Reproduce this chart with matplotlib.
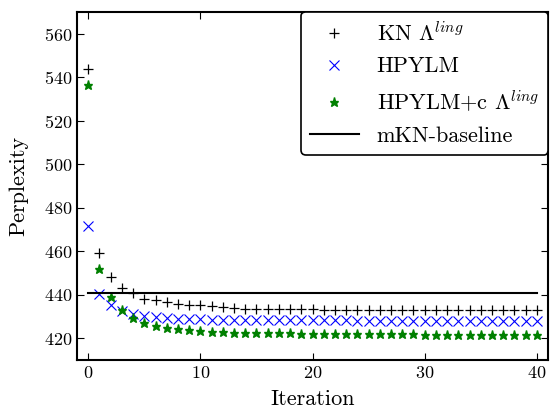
import matplotlib
matplotlib.use('Agg')
import matplotlib.pyplot as plt
import numpy as np

# perplexity per iteration
iterations = list(range(41))
kn_ling = [544.0, 459.0, 448.0, 443.0, 440.6, 438.0, 437.4, 436.5, 435.7, 435.4,
           435.2, 434.6, 434.2, 433.8, 433.6, 433.5, 433.4, 433.4, 433.3, 433.3,
           433.3, 433.2, 433.2, 433.2, 433.1, 433.1, 433.1, 433.1, 433.0, 433.0,
           433.0, 433.0, 433.0, 432.9, 432.9, 432.9, 432.9, 432.9, 432.8, 432.8,
           432.8]
hpylm = [471.7, 440.3, 435.2, 432.6, 431.3, 430.2, 429.8, 429.3, 429.0, 428.8,
         428.7, 428.6, 428.5, 428.5, 428.4, 428.4, 428.3, 428.3, 428.3, 428.2,
         428.2, 428.2, 428.2, 428.2, 428.1, 428.1, 428.1, 428.1, 428.1, 428.1,
         428.1, 428.0, 428.0, 428.0, 428.0, 428.0, 428.0, 428.0, 428.0, 428.0,
         428.0]
hpylm_c = [536.3, 451.8, 438.8, 432.9, 429.2, 427.0, 425.6, 424.7, 424.1, 423.7,
           423.3, 423.0, 422.8, 422.6, 422.5, 422.4, 422.3, 422.2, 422.2, 422.1,
           422.1, 422.0, 422.0, 422.0, 421.9, 421.9, 421.9, 421.8, 421.8, 421.8,
           421.7, 421.7, 421.7, 421.6, 421.6, 421.6, 421.5, 421.5, 421.4, 421.4,
           421.3]
baseline = 441.0

plt.rcParams['font.family'] = 'cmr10'
plt.rcParams['mathtext.fontset'] = 'cm'
plt.rcParams['axes.formatter.use_mathtext'] = True
plt.rcParams['xtick.direction'] = 'in'
plt.rcParams['ytick.direction'] = 'in'
plt.rcParams['xtick.top'] = True
plt.rcParams['ytick.right'] = True

fig = plt.figure(figsize=(5.5, 4.08), dpi=100)
ax = fig.add_axes([77 / 550, 48 / 408, 471 / 550, 348 / 408])

ax.plot(iterations, kn_ling, '+', color='k', ms=7, mew=0.9, label=r'KN $\Lambda^{ling}$')
ax.plot(iterations, hpylm, 'x', color='#0000ff', ms=7, mew=0.8, label='HPYLM')
ax.plot(iterations, hpylm_c, '*', color='green', ms=6.5, label=r'HPYLM+c $\Lambda^{ling}$')
ax.axhline(baseline, color='k', lw=1.5, xmin=1 / 42, xmax=41 / 42, label='mKN-baseline')

ax.set_xlim(-1, 41)
ax.set_ylim(410, 570)
ax.set_yticks(np.arange(420, 561, 20))
ax.set_xticks([0, 10, 20, 30, 40])
ax.tick_params(labelsize=13, width=0.8, length=5)
for s in ax.spines.values():
    s.set_linewidth(1.5)
ax.set_xlabel('Iteration', fontsize=16, labelpad=6)
ax.set_ylabel('Perplexity', fontsize=16, labelpad=11)

leg = ax.legend(loc='upper right', fontsize=16, numpoints=1, fancybox=True,
                borderaxespad=0.0, handlelength=2.2, labelspacing=0.55,
                handletextpad=0.8)
leg.get_frame().set_edgecolor('k')
leg.get_frame().set_linewidth(1.2)
leg.get_frame().set_alpha(1)

fig.savefig('out.png', dpi=100)
